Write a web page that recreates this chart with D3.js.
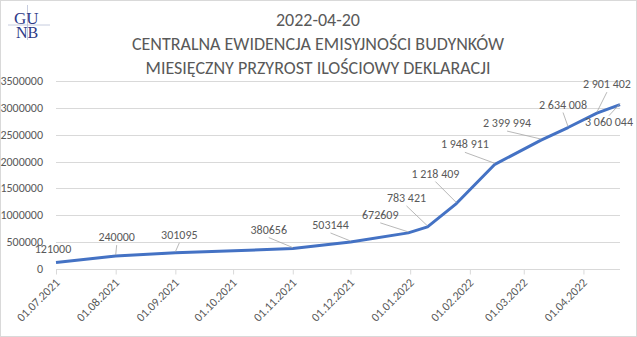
<!DOCTYPE html>
<html>
<head>
<meta charset="utf-8">
<script src="https://cdn.jsdelivr.net/npm/d3@7"></script>
<style>
  body { margin: 0; background: #fff; }
  svg { display: block; font-family: Carlito, Lato, "Open Sans", sans-serif; }
</style>
</head>
<body>
<div id="vis"></div>
<script>
// data
var dates = ['01.07.2021', '01.08.2021', '01.09.2021', '01.11.2021', '01.12.2021', '31.12.2021',
             '10.01.2022', '25.01.2022', '14.02.2022', '10.03.2022', '24.03.2022', '08.04.2022', '20.04.2022'];
var values = [121000, 240000, 301095, 380656, 503144, 672609,
              783421, 1218409, 1948911, 2399994, 2634008, 2901402, 3060044];
var labels = ['121000', '240000', '301095', '380656', '503144', '672609',
              '783 421', '1 218 409', '1 948 911', '2 399 994', '2 634 008', '2 901 402', '3 060 044'];
var yTicks = [0, 500000, 1000000, 1500000, 2000000, 2500000, 3000000, 3500000];
var titleLines = ['2022-04-20', 'CENTRALNA EWIDENCJA EMISYJNOŚCI BUDYNKÓW', 'MIESIĘCZNY PRZYROST ILOŚCIOWY DEKLARACJI'];

// label offsets from the point (text centre dx, baseline dy) - layout only
var labelOff = [[-3, -10], [1, -15], [4, -14], [-24, -15], [-20, -13], [-28, -14],
                [-21, -25], [-21, -26], [-30, -16], [-34, -13], [-5, -19], [10, -25], [-11, 21]];

var svgW = 637, svgH = 337;
var svg = d3.select('#vis').append('svg').attr('width', svgW).attr('height', svgH);

// frame
svg.append('rect').attr('x', 0.5).attr('y', 0.5).attr('width', svgW - 1).attr('height', svgH - 1)
   .style('fill', '#fff').style('stroke', '#d9d9d9');

var parse = d3.timeParse('%d.%m.%Y');
var data = dates.map(function (d, i) { return { date: parse(d), v: values[i], label: labels[i], off: labelOff[i] }; });

var x = d3.scaleTime().domain([data[0].date, data[data.length - 1].date]).range([56, 620]);
var y = d3.scaleLinear().domain([0, 3500000]).range([269, 81]);

var g = svg.append('g');

// grid
g.selectAll('.yGrid').data(yTicks.slice(1)).enter().append('line').attr('class', 'yGrid')
  .attr('x1', 56).attr('x2', 620)
  .attr('y1', function (d) { return Math.round(y(d)) + 0.5; })
  .attr('y2', function (d) { return Math.round(y(d)) + 0.5; })
  .style('stroke', '#d9d9d9');

// y labels
g.selectAll('.yLabel').data(yTicks).enter().append('text').attr('class', 'yLabel')
  .text(String).attr('x', 43).attr('y', function (d) { return y(d) + 4; })
  .attr('text-anchor', 'end').style('font-size', '12px').style('fill', '#595959');

// x axis
var xAxis = d3.axisBottom(x).ticks(d3.timeMonth.every(1)).tickFormat(d3.timeFormat('%d.%m.%Y')).tickSizeInner(5).tickSizeOuter(0);
var ax = svg.append('g').attr('transform', 'translate(0,' + (Math.round(y(0)) + 0.5) + ')').call(xAxis);
ax.select('.domain').style('stroke', '#d9d9d9').attr('d', 'M56,0H620');
ax.selectAll('.tick line').style('stroke', '#d9d9d9');
ax.selectAll('.tick text')
  .style('font-family', 'Carlito, Lato, "Open Sans", sans-serif').style('font-size', '12px').style('fill', '#595959')
  .attr('text-anchor', 'end').attr('x', 0).attr('y', 0).attr('dy', 0)
  .attr('transform', 'translate(4,14) rotate(-45)');

// line
var line = d3.line().x(function (d) { return x(d.date); }).y(function (d) { return y(d.v); });
g.append('path').datum(data).attr('d', line)
  .style('fill', 'none').style('stroke', '#4472c4').style('stroke-width', 3).style('stroke-linejoin', 'round');

// leader lines + labels
g.selectAll('.leader').data(data).enter().append('line').attr('class', 'leader')
  .attr('x1', function (d) { return x(d.date); }).attr('y1', function (d) { return y(d.v) - 1; })
  .attr('x2', function (d) { return x(d.date) + d.off[0]; })
  .attr('y2', function (d) { return y(d.v) + d.off[1] + (d.off[1] > 0 ? -10 : 4); })
  .style('stroke', '#a6a6a6').style('stroke-width', 0.8)
  .style('display', function (d, i) { return i === 0 ? 'none' : null; });

g.selectAll('.barlabel').data(data).enter().append('text').attr('class', 'barlabel')
  .text(function (d) { return d.label; })
  .attr('x', function (d) { return x(d.date) + d.off[0]; })
  .attr('y', function (d) { return y(d.v) + d.off[1]; })
  .attr('text-anchor', 'middle').style('font-size', '12px').style('fill', '#595959');

// title
svg.selectAll('.title').data(titleLines).enter().append('text').attr('class', 'title')
  .text(String).attr('x', 318).attr('y', function (d, i) { return 26 + i * 24; })
  .attr('text-anchor', 'middle').style('font-size', '18px').style('fill', '#595959');

// logo
var logo = svg.append('g');
logo.append('line').attr('x1', 8).attr('x2', 50).attr('y1', 25).attr('y2', 25).style('stroke', '#b8bfd6').style('stroke-width', 0.8);
logo.append('line').attr('x1', 27.5).attr('x2', 27.5).attr('y1', 5).attr('y2', 40).style('stroke', '#b8bfd6').style('stroke-width', 0.8);
logo.append('text').text('GU').attr('x', 14).attr('y', 24).style('font-family', '"Liberation Serif", serif').style('font-size', '17px').style('fill', '#2e3a87');
logo.append('text').text('NB').attr('x', 16).attr('y', 37.5).style('font-family', '"Liberation Serif", serif').style('font-size', '16px').style('fill', '#2e3a87');
</script>
</body>
</html>
